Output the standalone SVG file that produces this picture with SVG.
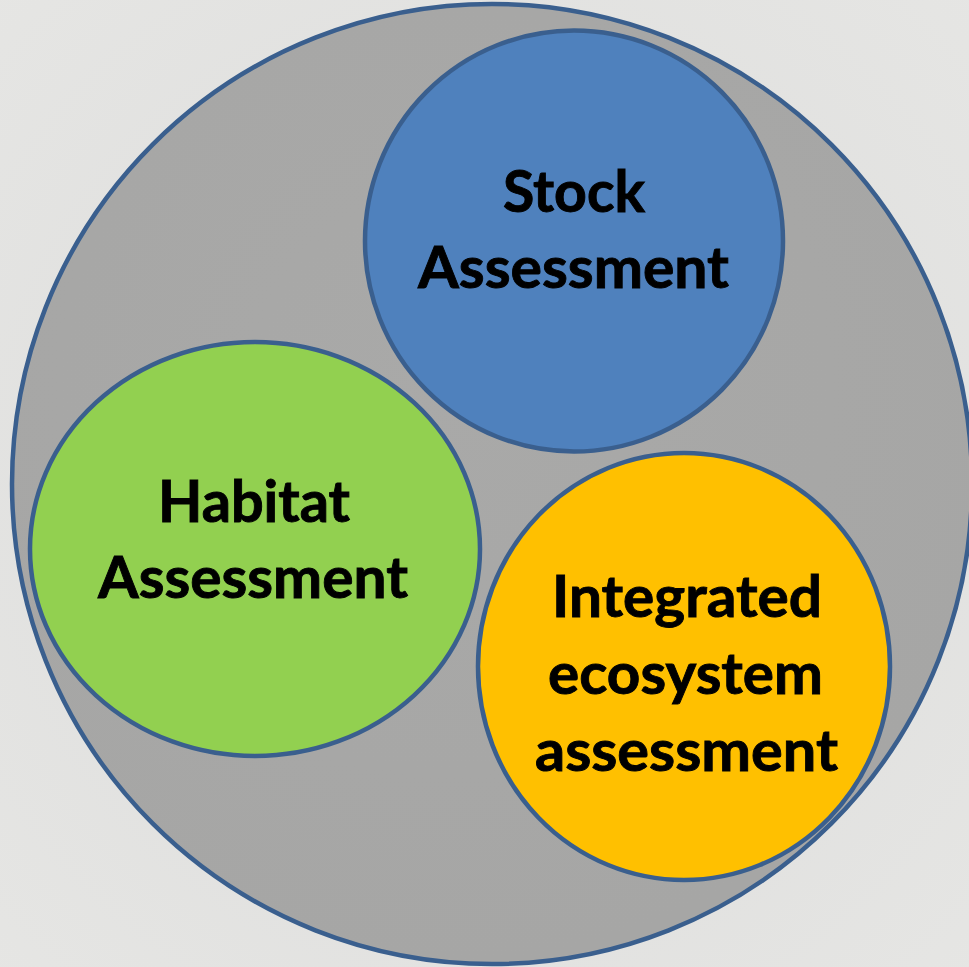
<svg xmlns="http://www.w3.org/2000/svg" width="969" height="967" viewBox="0 0 969 967">
  <defs>
    <radialGradient id="bg" cx="0.5" cy="0.5" r="0.75">
      <stop offset="0" stop-color="#dcdcdb"/>
      <stop offset="1" stop-color="#e6e6e4"/>
    </radialGradient>
    <radialGradient id="outerFill" cx="0.45" cy="0.4" r="0.6">
      <stop offset="0" stop-color="#a9a9a8"/>
      <stop offset="1" stop-color="#a6a6a5"/>
    </radialGradient>
  </defs>
  <style>
    .ring { stroke: #3a5f8e; stroke-width: 4.5; }
    .label { font-family: Lato, "Open Sans", "Liberation Sans", sans-serif; font-weight: 700; font-size: 58px; fill: #000; stroke: #000; stroke-width: 0.9; text-anchor: middle; }
  </style>

  <!-- backdrop -->
  <rect x="0" y="0" width="969" height="967" fill="url(#bg)"/>

  <!-- enclosing circle -->
  <g id="outer">
    <circle class="ring" cx="492" cy="484" r="480" fill="url(#outerFill)"/>
  </g>

  <g id="stock">
    <ellipse class="ring" cx="574" cy="241" rx="209" ry="210.5" fill="#4f81bd"/>
    <text class="label" x="574" y="212" textLength="142" lengthAdjust="spacingAndGlyphs">Stock</text>
    <text class="label" x="573.5" y="288" textLength="311" lengthAdjust="spacingAndGlyphs">Assessment</text>
  </g>

  <g id="habitat">
    <ellipse class="ring" cx="255" cy="549" rx="225" ry="207" fill="#92d050"/>
    <text class="label" x="254" y="522" textLength="192" lengthAdjust="spacingAndGlyphs">Habitat</text>
    <text class="label" x="253" y="598" textLength="310" lengthAdjust="spacingAndGlyphs">Assessment</text>
  </g>

  <g id="integrated">
    <ellipse class="ring" cx="684" cy="666.5" rx="206" ry="213.5" fill="#ffc000"/>
    <text class="label" x="687" y="617" textLength="270" lengthAdjust="spacingAndGlyphs">Integrated</text>
    <text class="label" x="685.5" y="694" textLength="275" lengthAdjust="spacingAndGlyphs">ecosystem</text>
    <text class="label" x="686.5" y="771" textLength="303" lengthAdjust="spacingAndGlyphs">assessment</text>
  </g>

  <g id="connectors"/>
</svg>
